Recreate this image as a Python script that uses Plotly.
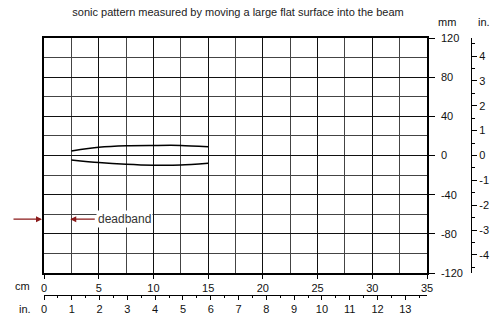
import plotly.graph_objects as go

# ---- data ----
distance_cm = [2.5, 5, 7.5, 10, 12.5, 15]
upper_mm = [4.7, 8.4, 10.0, 10.3, 10.3, 9.0]
lower_mm = [-4.6, -7.2, -9.0, -10.0, -9.8, -8.0]

mm_ticks = [120, 80, 40, 0, -40, -80, -120]
mm_ticktext = ["120", "80", "40", "0", "-40", "-80", "-120"]
in_y_ticks = [4, 3, 2, 1, 0, -1, -2, -3, -4]
in_y_ticktext = ["4", "3", "2", "1", "0", "-1", "-2", "-3", "-4"]
cm_ticks = [0, 5, 10, 15, 20, 25, 30, 35]
in_x_ticks = list(range(0, 14))
deadband_mm = -65

FONT = "Liberation Sans, Arial, sans-serif"
W, H = 500, 318
# pixel layout
L, R, T, B = 44, 20, 38, 20
plot_right = 427
plot_bottom = 273
paper_w = W - L - R
paper_h = H - T - B
x_dom_end = (plot_right - L) / paper_w
y_dom_start = (H - B - plot_bottom) / paper_h


def px_to_paper(px, py):
    return (px - L) / paper_w, (H - B - py) / paper_h


fig = go.Figure()
for ys in (upper_mm, lower_mm):
    fig.add_trace(go.Scatter(
        x=distance_cm, y=ys, mode="lines",
        line=dict(color="black", width=1.5, shape="spline", smoothing=0.8),
        showlegend=False, hoverinfo="skip"))

# invisible traces to activate secondary axes
fig.add_trace(go.Scatter(x=[0], y=[0], xaxis="x2", yaxis="y", mode="markers",
                         marker=dict(opacity=0), showlegend=False, hoverinfo="skip"))
fig.add_trace(go.Scatter(x=[0], y=[0], xaxis="x", yaxis="y2", mode="markers",
                         marker=dict(opacity=0), showlegend=False, hoverinfo="skip"))

tickfont = dict(family=FONT, size=11, color="#111")

fig.update_layout(
    width=W, height=H,
    margin=dict(l=L, r=R, t=T, b=B, autoexpand=False),
    paper_bgcolor="white", plot_bgcolor="white",
    font=dict(family=FONT, size=11, color="#111"),
    title=dict(text="sonic pattern measured by moving a large flat surface into the beam",
               x=0.476, xanchor="center", y=1 - 12 / H, yanchor="middle",
               xref="container", yref="container", automargin=False,
               font=dict(family=FONT, size=11, color="#222")),
    xaxis=dict(domain=[0, x_dom_end], range=[0, 35], anchor="y", automargin=False,
               tickvals=cm_ticks, ticks="outside", ticklen=4, tickcolor="black",
               tickfont=tickfont, ticklabelstandoff=0,
               showgrid=True, gridcolor="#111", gridwidth=1,
               minor=dict(dtick=2.5, tick0=0, showgrid=True, gridcolor="#444", gridwidth=1, ticks=""),
               showline=True, linecolor="black", linewidth=1.5, mirror=True,
               zeroline=False, fixedrange=True),
    xaxis2=dict(domain=[0, x_dom_end], range=[0, 35 / 2.54], overlaying="x",
                anchor="free", position=(H - B - 295) / paper_h, side="bottom",
                automargin=False,
                tickvals=in_x_ticks, ticks="outside", ticklen=4, tickcolor="black",
                tickfont=tickfont, ticklabelstandoff=0,
                minor=dict(dtick=0.5, tick0=0, ticks="outside", ticklen=2, tickcolor="black"),
                showgrid=False, showline=True, linecolor="black", linewidth=1.2,
                zeroline=False, fixedrange=True),
    yaxis=dict(domain=[y_dom_start, 1], range=[-120, 120], anchor="x", side="right",
               automargin=False,
               tickvals=mm_ticks, ticktext=mm_ticktext, ticks="outside", ticklen=6,
               tickcolor="black", tickfont=tickfont, ticklabelstandoff=4,
               showgrid=True, gridcolor="#111", gridwidth=1,
               minor=dict(dtick=20, tick0=0, showgrid=True, gridcolor="#444", gridwidth=1, ticks=""),
               showline=True, linecolor="black", linewidth=1.5, mirror=True,
               zeroline=False, fixedrange=True),
    yaxis2=dict(domain=[y_dom_start, 1], range=[-120 / 25.4, 120 / 25.4], overlaying="y",
                anchor="free", position=(471 - L) / paper_w, side="right",
                automargin=False,
                tickvals=in_y_ticks, ticktext=in_y_ticktext, ticks="outside", ticklen=5,
                tickcolor="black", tickfont=tickfont,
                minor=dict(dtick=0.5, tick0=0, ticks="outside", ticklen=3, tickcolor="black"),
                showgrid=False, showline=True, linecolor="black", linewidth=1.2,
                zeroline=False, fixedrange=True),
)

arrow_col = "#8b1a1a"
# left arrow pointing to the plot edge
hx, hy = px_to_paper(42, 0)
fig.add_annotation(x=hx, y=deadband_mm, xref="paper", yref="y", ax=-30, ay=0,
                   showarrow=True, arrowhead=2, arrowsize=1, arrowwidth=1.2,
                   arrowcolor=arrow_col, text="")
# arrow pointing to the deadband limit
fig.add_annotation(x=2.4, y=deadband_mm, xref="x", yref="y", ax=26, ay=0,
                   showarrow=True, arrowhead=2, arrowsize=1, arrowwidth=1.2,
                   arrowcolor=arrow_col, text="")
fig.add_annotation(x=4.75, y=deadband_mm, xref="x", yref="y", xanchor="left",
                   showarrow=False, text="deadband", bgcolor="white", borderpad=1,
                   font=dict(family=FONT, size=12, color="#333"))

# axis unit labels
for txt, (px, py) in [("cm", (22, 286)), ("in.", (25, 309)), ("mm", (447, 22)), ("in.", (484, 22))]:
    xx, yy = px_to_paper(px, py)
    fig.add_annotation(x=xx, y=yy, xref="paper", yref="paper", text=txt,
                       xanchor="center", yanchor="middle",
                       showarrow=False, font=tickfont)

fig.write_html("out.html", config={"displayModeBar": False},
               post_script="document.body.style.margin='0';document.body.style.overflow='hidden';")
